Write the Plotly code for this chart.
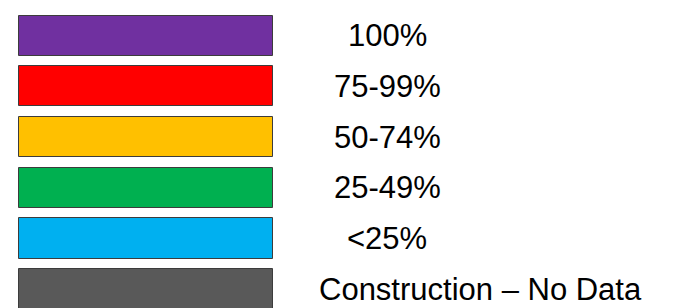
import plotly.graph_objects as go

# Legend categories, colours and bar values (each legend swatch has unit length)
labels = ["100%", "75-99%", "50-74%", "25-49%", "<25%", "Construction – No Data"]
colors = ["#7030A0", "#FF0000", "#FFC000", "#00B050", "#00B0F0", "#595959"]
values = [1, 1, 1, 1, 1, 1]

W, H = 673, 308
rows = list(range(len(labels)))

fig = go.Figure()
fig.add_trace(go.Bar(
    x=values, y=rows, orientation="h",
    marker=dict(color=colors, line=dict(color="#3c3c3c", width=1)),
    width=0.79, hoverinfo="skip", showlegend=False,
))

# axis mapping: swatch spans pixel 18.5 -> 273, rows pitch 50.7px starting at 35.7px
x0, x1 = 18.5, 273.0
xunit = x1 - x0
pitch, top = 50.7, 35.7

for i, lab in enumerate(labels):
    if i == len(labels) - 1:
        fig.add_annotation(x=(317 - x0) / xunit, y=i, text=lab, showarrow=False,
                           xanchor="left", yanchor="middle",
                           font=dict(family="Liberation Sans, Arial", size=31, color="black"))
    else:
        fig.add_annotation(x=(387 - x0) / xunit, y=i, text=lab, showarrow=False,
                           xanchor="center", yanchor="middle",
                           font=dict(family="Liberation Sans, Arial", size=31, color="black"))

fig.update_layout(
    width=W, height=H, margin=dict(l=0, r=0, t=0, b=0),
    paper_bgcolor="white", plot_bgcolor="white",
    xaxis=dict(range=[-x0 / xunit, (W - x0) / xunit], visible=False, fixedrange=True),
    yaxis=dict(range=[(H - top) / pitch, -top / pitch], visible=False, fixedrange=True),
    bargap=0,
)
fig.write_html("out.html", config={"displayModeBar": False},
               post_script="document.body.style.margin='0';document.body.style.overflow='hidden';")
